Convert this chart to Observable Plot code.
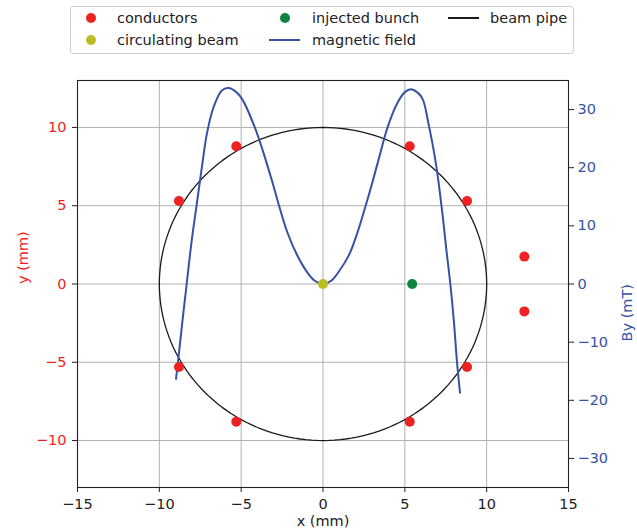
<!DOCTYPE html>
<html>
<head>
<meta charset="utf-8">
<script src="https://cdn.jsdelivr.net/npm/d3@7"></script>
<script src="https://cdn.jsdelivr.net/npm/@observablehq/plot@0.6"></script>
<style>
  html, body { margin: 0; padding: 0; background: #fff; }
  #wrap { position: relative; width: 637px; height: 532px; font-family: "DejaVu Sans", sans-serif; }
  #wrap svg { position: absolute; left: 0; top: 0; }
</style>
</head>
<body>
<div id="wrap"></div>
<script>
// ---- data ----
const conductorX = [-5.3, 5.3, -8.8, 8.8, -8.8, 8.8, -5.3, 5.3, 12.3, 12.3];
const conductorY = [8.8, 8.8, 5.3, 5.3, -5.3, -5.3, -8.8, -8.8, 1.75, -1.75];
const beamX = [0], beamY = [0];
const injectedX = [5.45], injectedY = [0];
const pipeRadius = 10;
const fieldX = [-8.98, -8.86, -8.6, -8.33, -8.02, -7.71, -7.40, -7.09, -6.69, -6.18, -5.76, -5.3, -4.94, -4.16, -3.71, -3.09, -2.69, -2.18, -1.57, -0.96, -0.5, 0, 0.5, 0.96, 1.59, 2.11, 2.61, 3.02, 3.53, 3.94, 4.56, 5.0, 5.37, 5.75, 6.09, 6.45, 6.9, 7.3, 7.55, 7.78, 8.0, 8.18, 8.37];
const fieldBy = [-16.3, -13.4, -6.7, 0, 7.5, 13.8, 20.1, 25.9, 30.4, 33.3, 33.7, 33.0, 31.8, 26.9, 23.2, 17.5, 13.5, 8.9, 4.9, 2.0, 0.55, 0, 0.55, 2.1, 5.0, 8.9, 13.5, 17.5, 22.8, 26.9, 31.2, 33.0, 33.5, 33.0, 31.8, 27.5, 20.7, 12.0, 5.6, 0, -6.5, -13.2, -18.7];
const xTicks = [-15, -10, -5, 0, 5, 10, 15];
const yTicks = [-10, -5, 0, 5, 10];
const byTicks = [-30, -20, -10, 0, 10, 20, 30];
const xDomain = [-15, 15], yDomain = [-13, 13], byDomain = [-35, 35];
const legendLabels = ["conductors", "injected bunch", "beam pipe", "circulating beam", "magnetic field"];

// ---- styles ----
const RED = "#ee2222", OLIVE = "#bcbd22", GREEN = "#11843f", BLUE = "#3552a3", INK = "#222";
const W = 637, H = 532;
const base = {
  width: W, height: H, marginTop: 80, marginRight: 69, marginBottom: 45, marginLeft: 77,
  style: { fontFamily: "DejaVu Sans, sans-serif", fontSize: "14.5px", background: "transparent", overflow: "visible" }
};
const fmt = d => d < 0 ? "\u2212" + Math.abs(d) : String(d);

const conductors = conductorX.map((x, i) => ({x, y: conductorY[i]}));
const beam = beamX.map((x, i) => ({x, y: beamY[i]}));
const injected = injectedX.map((x, i) => ({x, y: injectedY[i]}));
const pipe = d3.range(0, 361, 2).map(a => ({x: pipeRadius * Math.cos(a * Math.PI / 180), y: pipeRadius * Math.sin(a * Math.PI / 180)}));
const field = fieldX.map((x, i) => ({x, by: fieldBy[i]}));

const wrap = document.getElementById("wrap");

// layer 1: grid + beam pipe (mm)
wrap.append(Plot.plot({
  ...base,
  x: {domain: xDomain, axis: null},
  y: {domain: yDomain, axis: null},
  marks: [
    Plot.gridX(xTicks, {stroke: "#b0b0b0", strokeOpacity: 1, strokeWidth: 1}),
    Plot.gridY(yTicks, {stroke: "#b0b0b0", strokeOpacity: 1, strokeWidth: 1}),
    Plot.line(pipe, {x: "x", y: "y", stroke: "#1a1a1a", strokeWidth: 1.3})
  ]
}));

// layer 2: magnetic field (mT) with right axis
wrap.append(Plot.plot({
  ...base,
  x: {domain: xDomain, axis: null},
  y: {domain: byDomain, axis: null},
  marks: [
    Plot.line(field, {x: "x", y: "by", stroke: BLUE, strokeWidth: 2, curve: "catmull-rom"}),
    Plot.axisY(byTicks, {anchor: "right", tickSize: 5, text: null, label: null, stroke: INK}),
    Plot.axisY(byTicks, {anchor: "right", tickSize: 0, tickPadding: 9, tickFormat: fmt, label: null, fill: BLUE, stroke: "none"}),
    Plot.text(["By (mT)"], {frameAnchor: "right", dx: 59, rotate: -90, fill: BLUE, fontSize: 14.5})
  ]
}));

// layer 3: points, frame, axes (mm)
wrap.append(Plot.plot({
  ...base,
  x: {domain: xDomain, axis: null},
  y: {domain: yDomain, axis: null},
  marks: [
    Plot.dot(conductors, {x: "x", y: "y", r: 5, fill: RED}),
    Plot.dot(beam, {x: "x", y: "y", r: 5, fill: OLIVE}),
    Plot.dot(injected, {x: "x", y: "y", r: 5, fill: GREEN}),
    Plot.frame({stroke: INK, strokeWidth: 1.1}),
    Plot.axisX(xTicks, {anchor: "bottom", tickSize: 5, tickPadding: 6, tickFormat: fmt, label: null, stroke: INK, fill: INK}),
    Plot.axisY(yTicks, {anchor: "left", tickSize: 5, text: null, label: null, stroke: INK}),
    Plot.axisY(yTicks, {anchor: "left", tickSize: 0, tickPadding: 11, tickFormat: fmt, label: null, fill: RED, stroke: "none"}),
    Plot.text(["x (mm)"], {frameAnchor: "bottom", dy: 38, fill: INK, fontSize: 14.5}),
    Plot.text(["y (mm)"], {frameAnchor: "left", dx: -54, rotate: -90, fill: RED, fontSize: 14.5})
  ]
}));

// legend (above the plot area)
const leg = d3.select(wrap).append("svg").attr("width", W).attr("height", 60)
  .style("font-family", "DejaVu Sans, sans-serif").style("font-size", "14.5px");
leg.append("rect").attr("x", 70.5).attr("y", 6.5).attr("width", 503).attr("height", 47)
  .attr("rx", 3).attr("fill", "rgba(255,255,255,0.8)").attr("stroke", "#cccccc");
const items = [
  {label: legendLabels[0], kind: "dot", color: RED, mx: 91, tx: 117, y: 18},
  {label: legendLabels[1], kind: "dot", color: GREEN, mx: 285, tx: 312, y: 18},
  {label: legendLabels[2], kind: "line", color: "#1a1a1a", mx: 463.5, tx: 490, y: 18},
  {label: legendLabels[3], kind: "dot", color: OLIVE, mx: 91, tx: 117, y: 40},
  {label: legendLabels[4], kind: "line", color: BLUE, mx: 284.5, tx: 312, y: 40}
];
for (const it of items) {
  if (it.kind === "dot") {
    leg.append("circle").attr("cx", it.mx).attr("cy", it.y).attr("r", 5).attr("fill", it.color);
  } else {
    leg.append("line").attr("x1", it.mx - 15.5).attr("x2", it.mx + 15.5).attr("y1", it.y).attr("y2", it.y)
      .attr("stroke", it.color).attr("stroke-width", 2);
  }
  leg.append("text").attr("x", it.tx).attr("y", it.y).attr("dy", "0.35em").attr("fill", INK).text(it.label);
}
</script>
</body>
</html>
